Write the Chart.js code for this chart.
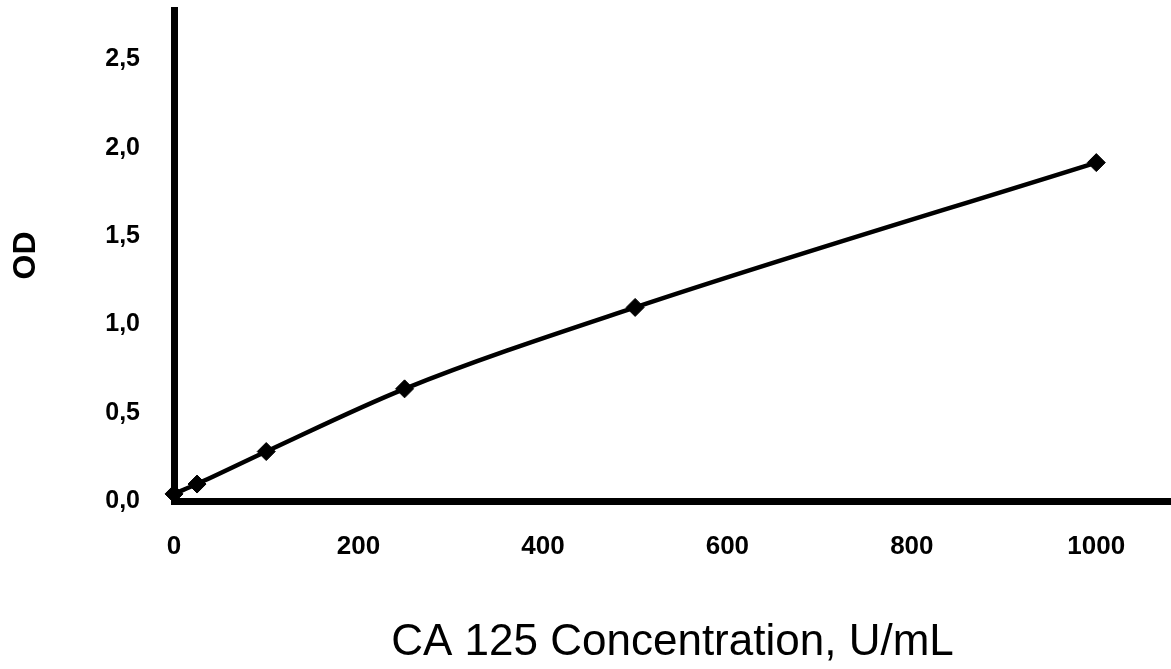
<!DOCTYPE html>
<html>
<head>
<meta charset="utf-8">
<script src="https://cdn.jsdelivr.net/npm/chart.js@4/dist/chart.umd.min.js"></script>
<style>
  html, body { margin: 0; padding: 0; background: #fff; overflow: hidden; }
  #wrap { width: 1171px; height: 669px; position: relative; overflow: hidden; }
</style>
</head>
<body>
<div id="wrap"><canvas id="c"></canvas></div>
<script>
// ---- data ----
const concentrations = [0, 25, 100, 250, 500, 1000];          // U/mL
const odValues       = [0.04, 0.096, 0.28, 0.635, 1.096, 1.916];
const xTickValues    = [0, 200, 400, 600, 800, 1000];
const xTickLabels    = ['0', '200', '400', '600', '800', '1000'];
const yTickValues    = [0, 0.5, 1.0, 1.5, 2.0, 2.5];
const yTickLabels    = ['0,0', '0,5', '1,0', '1,5', '2,0', '2,5'];
const xTitle = 'CA 125 Concentration, U/mL';
const yTitle = 'OD';

const FONT = "'Liberation Sans', Arial, sans-serif";

new Chart(document.getElementById('c'), {
  type: 'line',
  data: {
    datasets: [{
      data: concentrations.map((x, i) => ({ x: x, y: odValues[i] })),
      borderColor: '#000',
      backgroundColor: '#000',
      borderWidth: 4.5,
      pointStyle: 'rectRot',
      pointRadius: 9,
      pointBorderWidth: 1,
      pointBackgroundColor: '#000',
      pointBorderColor: '#000',
      cubicInterpolationMode: 'monotone',
      clip: false,
      fill: false
    }]
  },
  options: {
    responsive: true,
    maintainAspectRatio: false,
    animation: false,
    layout: { autoPadding: false, padding: { top: 10, right: 0, bottom: 0, left: 0 } },
    plugins: { legend: { display: false }, tooltip: { enabled: false } },
    scales: {
      x: {
        type: 'linear',
        min: 0,
        max: 1081,
        afterBuildTicks(scale) { scale.ticks = xTickValues.map(v => ({ value: v })); },
        afterFit(scale) {
          scale.height = 168;
          scale.paddingLeft = 0; scale.paddingRight = 0;
        },
        grid: { display: false, drawTicks: false },
        border: { display: true, color: '#000', width: 7 },
        ticks: {
          padding: 30,
          color: '#000',
          font: { family: FONT, size: 26, weight: 'bold' },
          maxRotation: 0,
          autoSkip: false,
          callback: (v) => { const i = xTickValues.indexOf(v); return i >= 0 ? xTickLabels[i] : ''; }
        },
        title: {
          display: true,
          text: xTitle,
          color: '#000',
          font: { family: FONT, size: 44 },
          padding: { top: 0, bottom: 0 }
        }
      },
      y: {
        type: 'linear',
        min: 0,
        max: 2.78,
        afterBuildTicks(scale) { scale.ticks = yTickValues.map(v => ({ value: v })); },
        afterFit(scale) {
          scale.width = 174;
          scale.paddingTop = 0; scale.paddingBottom = 0;
        },
        grid: { display: false, drawTicks: false },
        border: { display: true, color: '#000', width: 7 },
        ticks: {
          padding: 34,
          color: '#000',
          font: { family: FONT, size: 25, weight: 'bold' },
          autoSkip: false,
          callback: (v) => { const i = yTickValues.findIndex(t => Math.abs(t - v) < 1e-9); return i >= 0 ? yTickLabels[i] : ''; }
        },
        title: {
          display: true,
          text: yTitle,
          color: '#000',
          font: { family: FONT, size: 32, weight: 'bold' },
          padding: { top: 7, bottom: 0 }
        }
      }
    }
  }
});
</script>
</body>
</html>
